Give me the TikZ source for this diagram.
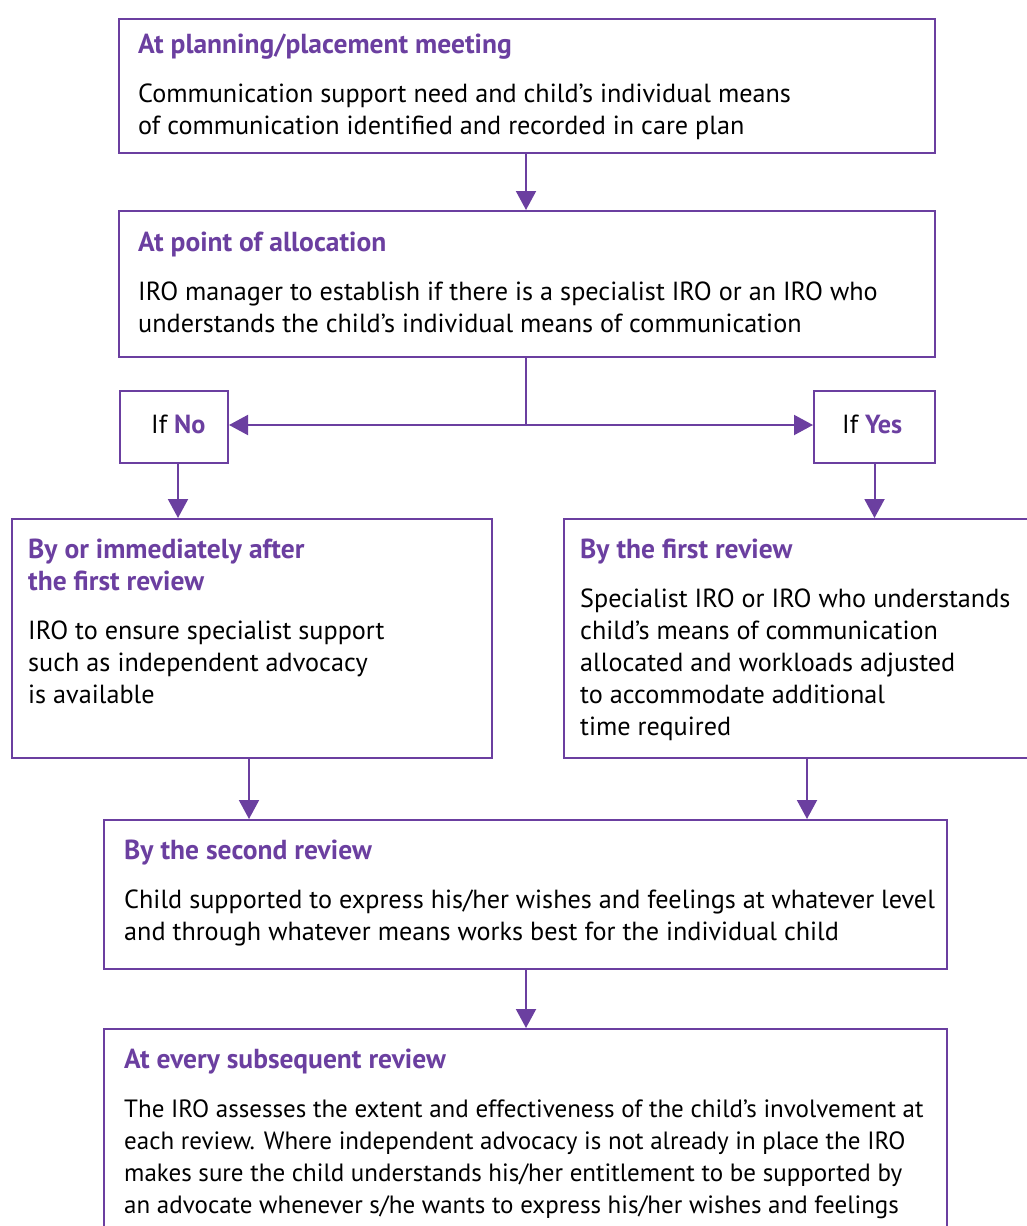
\documentclass[tikz,border=0pt]{standalone}
\usepackage{fontspec}
\setmainfont{PT Sans}
\usetikzlibrary{arrows.meta}
\definecolor{iropurple}{HTML}{6B3FA0}
\tikzset{
  box/.style={draw=iropurple, line width=2pt, fill=white, inner sep=0pt, anchor=north west},
  ttl/.style={anchor=base west, inner sep=0pt, text=iropurple, font=\fontsize{27.5}{32}\selectfont\bfseries, align=left},
  body/.style={anchor=base west, inner sep=0pt, text=black, font=\fontsize{26.2}{32}\selectfont, align=left},
  conn/.style={draw=iropurple, line width=2pt},
  arr/.style={conn, -{Triangle[length=19pt,width=20pt]}},
}
\begin{document}
\begin{tikzpicture}[x=1pt,y=-1pt]
\useasboundingbox (0,0) rectangle (1027,1226);
\clip (0,0) rectangle (1027,1226);
% boxes
\node[box, minimum width=816pt, minimum height=134pt] (b1) at (118,18) {};
\node[box, minimum width=816pt, minimum height=146pt] (b2) at (118,210) {};
\node[box, minimum width=108pt, minimum height=72pt] (no) at (119,390) {};
\node[box, minimum width=121pt, minimum height=72pt] (yes) at (813,390) {};
\node[box, minimum width=480pt, minimum height=239pt] (b3) at (11,518) {};
\node[box, minimum width=486pt, minimum height=239pt] (b4) at (563,518) {};
\node[box, minimum width=843pt, minimum height=149pt] (b5) at (103,819) {};
\node[box, minimum width=843pt, minimum height=230pt] (b6) at (103,1028) {};
% texts (base anchor = baseline of last line)
\node[ttl] (t1) at (138,53) {At planning/placement meeting};
\node[body] (x1) at (138,134) {Communication support need and child’s individual means\\of communication identified and recorded in care plan};
\node[ttl] (t2) at (138,251) {At point of allocation};
\node[body] (x2) at (138,332) {IRO manager to establish if there is a specialist IRO or an IRO who\\understands the child’s individual means of communication};
\node[body] (tno) at (151,433) {If \textcolor{iropurple}{\bfseries No}};
\node[body] (tyes) at (842,433) {If \textcolor{iropurple}{\bfseries Yes}};
\node[ttl] (t3) at (28,590) {By or immediately after\\the first review};
\node[body] (x3) at (28,703) {IRO to ensure specialist support\\such as independent advocacy\\is available};
\node[ttl] (t4) at (580,558) {By the first review};
\node[body] (x4) at (580,735) {Specialist IRO or IRO who understands\\child’s means of communication\\allocated and workloads adjusted\\to accommodate additional\\time required};
\node[ttl] (t5) at (124,859) {By the second review};
\node[body] (x5) at (124,940) {Child supported to express his/her wishes and feelings at whatever level\\and through whatever means works best for the individual child};
\node[ttl] (t6) at (124,1068) {At every subsequent review};
\node[body, font=\fontsize{25}{32}\selectfont] (x6) at (124,1213) {The IRO assesses the extent and effectiveness of the child’s involvement at\\each review. Where independent advocacy is not already in place the IRO\\makes sure the child understands his/her entitlement to be supported by\\an advocate whenever s/he wants to express his/her wishes and feelings};
% connectors
\coordinate (J) at (526,425);
\draw[arr] (b1.south -| 526,0) -- (b2.north -| 526,0);
\draw[conn] (b2.south -| J) -- (J);
\draw[arr] (J) -- (J -| no.east);
\draw[arr] (J) -- (J -| yes.west);
\draw[arr] (no.south -| 178,0) -- (b3.north -| 178,0);
\draw[arr] (yes.south) -- (yes.south |- b4.north);
\draw[arr] (b3.south -| 249,0) -- (b5.north -| 249,0);
\draw[arr] (b4.south) -- (b4.south |- b5.north);
\draw[arr] (b5.south -| 526,0) -- (b6.north -| 526,0);
\end{tikzpicture}
\end{document}
